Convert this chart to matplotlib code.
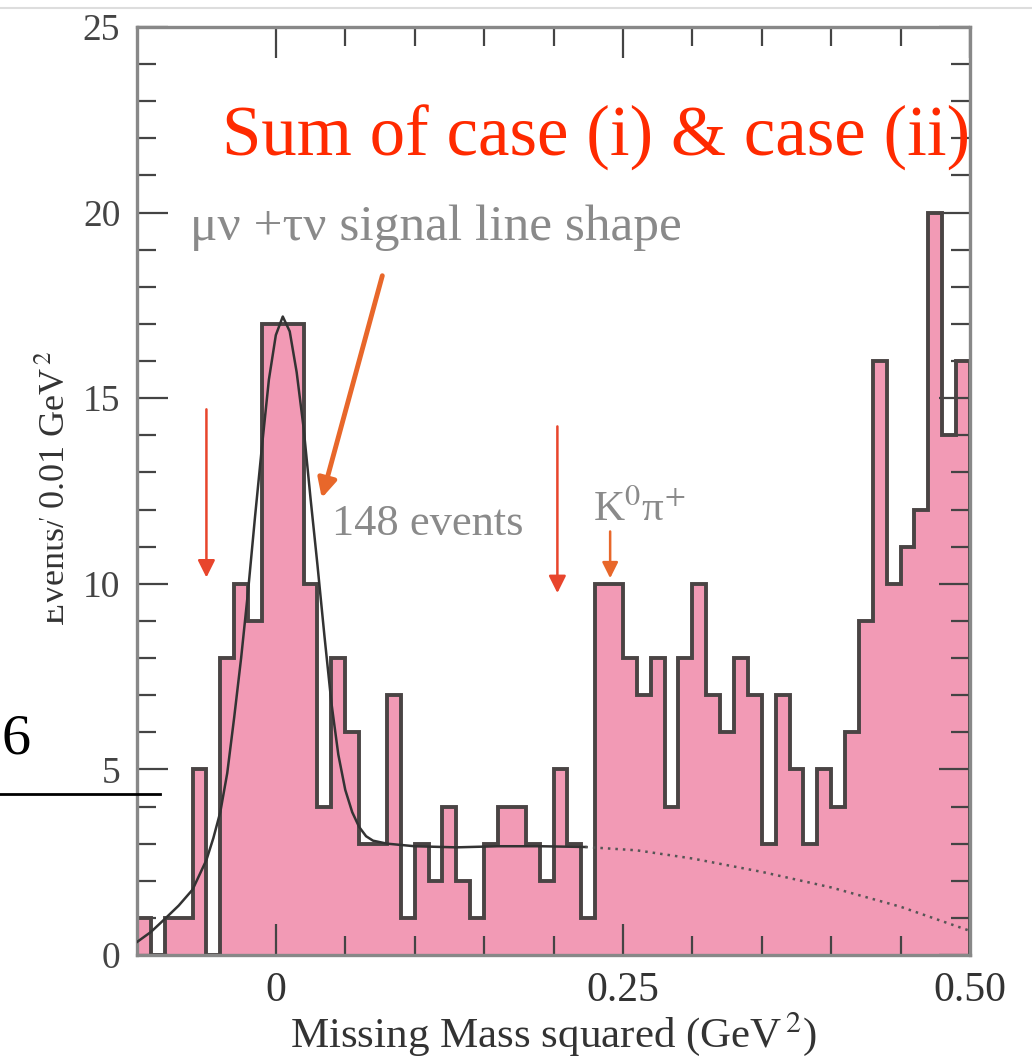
import numpy as np
import matplotlib.pyplot as plt
from matplotlib.patches import Rectangle
from matplotlib.lines import Line2D

plt.rcParams['font.family'] = ['Liberation Serif', 'DejaVu Serif']
plt.rcParams['mathtext.fontset'] = 'stix'

# histogram: 60 bins of 0.01 GeV^2 from -0.10 to 0.50
bin_lo = -0.10
bin_hi = 0.50
counts = [1, 0, 1, 1, 5, 0, 8, 10, 9, 17,
          17, 17, 10, 4, 8, 6, 3, 3, 7, 1,
          3, 2, 4, 2, 1, 3, 4, 4, 3, 2,
          5, 3, 1, 10, 10, 8, 7, 8, 4, 8,
          10, 7, 6, 8, 7, 3, 7, 5, 3, 5,
          4, 6, 9, 16, 10, 11, 12, 20, 14, 16]

# fitted signal + background curve
fit_x = [-0.100, -0.090, -0.080, -0.070, -0.060, -0.050, -0.045, -0.040,
         -0.035, -0.030, -0.025, -0.020, -0.015, -0.010, -0.005, 0.000,
         0.005, 0.010, 0.015, 0.020, 0.025, 0.030, 0.035, 0.040, 0.045,
         0.050, 0.055, 0.060, 0.065, 0.070, 0.080, 0.100, 0.130, 0.160,
         0.190, 0.223]
fit_y = [0.35, 0.62, 0.97, 1.33, 1.76, 2.56, 3.15, 3.85,
         4.9, 6.4, 8.0, 9.8, 11.8, 13.7, 15.5, 16.7,
         17.2, 16.8, 15.7, 14.2, 12.3, 10.5, 8.6, 6.8, 5.4,
         4.45, 3.85, 3.45, 3.2, 3.08, 3.0, 2.93, 2.9, 2.93,
         2.93, 2.91]
bkg_x = [0.223, 0.260, 0.300, 0.350, 0.400, 0.450, 0.500]
bkg_y = [2.91, 2.82, 2.60, 2.24, 1.82, 1.30, 0.65]

x_major = [0, 0.25, 0.50]
x_major_labels = ['0', '0.25', '0.50']
y_major = [0, 5, 10, 15, 20, 25]

pink = '#f29ab5'
edge_col = '#4a4444'
gray_txt = '#8a8a8a'
red = '#ff2a00'
arrow_red = '#e8452c'
arrow_orange = '#e8672a'

fig = plt.figure(figsize=(10.32, 10.58), dpi=100)
ax = fig.add_axes([137 / 1032, 1 - 955 / 1058, 833 / 1032, 928 / 1058])

edges = np.linspace(bin_lo, bin_hi, len(counts) + 1)
ax.stairs(counts, edges, fill=True, facecolor=pink, edgecolor='none', zorder=1)
ax.stairs(counts, edges, color=edge_col, lw=2.8, baseline=0, zorder=2)

ax.plot(fit_x, fit_y, color='#333333', lw=1.8, zorder=3)
ax.plot(bkg_x, bkg_y, color='#555555', lw=1.8, ls=(0, (1, 2)), zorder=3)

ax.set_xlim(bin_lo, bin_hi)
ax.set_ylim(0, 25)
ax.set_xticks(x_major)
ax.set_xticklabels(x_major_labels)
ax.set_xticks(np.arange(0.05, 0.5, 0.05), minor=True)
ax.set_yticks(y_major)
ax.set_yticks(range(26), minor=True)
ax.tick_params(which='both', direction='in', top=True, right=True,
               color='#444444', width=1.6)
ax.tick_params(which='major', length=22)
ax.tick_params(which='minor', length=14)
ax.tick_params(axis='x', labelsize=30, labelcolor='#333333', pad=12)
ax.tick_params(axis='y', labelsize=27, labelcolor='#444444', pad=12)
for side in ['left', 'right', 'top', 'bottom']:
    ax.spines[side].set_color('#888888')
    ax.spines[side].set_linewidth(2.4)

ax.set_xlabel('Missing Mass squared (GeV$^{\\,2}$)', fontsize=31,
              color='#333333', labelpad=0)

# annotations
ax.text(-0.039, 22.0, 'Sum of case (i) & case (ii)', color=red,
        fontsize=51, ha='left', va='center')
ax.text(-0.0615, 19.6, 'μν +τν signal line shape', color=gray_txt,
        fontsize=37, ha='left', va='center')
ax.text(0.0403, 11.6, '148 events', color=gray_txt,
        fontsize=32, ha='left', va='center')
ax.text(0.262, 12.0, 'K$^{0}$π$^{+}$', color=gray_txt,
        fontsize=31, ha='center', va='center')

ax.annotate('', xy=(0.0331, 12.31), xytext=(0.0767, 18.3),
            arrowprops=dict(arrowstyle='-|>', color=arrow_orange, lw=3.5,
                            mutation_scale=28, shrinkA=0, shrinkB=0))
ax.annotate('', xy=(-0.050, 10.17), xytext=(-0.050, 14.7),
            arrowprops=dict(arrowstyle='-|>', color=arrow_red, lw=1.8,
                            mutation_scale=26, shrinkA=0, shrinkB=0))
ax.annotate('', xy=(0.2028, 9.75), xytext=(0.2028, 14.24),
            arrowprops=dict(arrowstyle='-|>', color=arrow_red, lw=1.8,
                            mutation_scale=26, shrinkA=0, shrinkB=0))
ax.annotate('', xy=(0.2408, 10.15), xytext=(0.2408, 11.41),
            arrowprops=dict(arrowstyle='-|>', color=arrow_orange, lw=1.8,
                            mutation_scale=24, shrinkA=0, shrinkB=0))

# y label, partly hidden behind a white patch like in the slide
fig.text(56 / 1032, 1 - 488 / 1058, 'Events/ 0.01 GeV$^{\\,2}$', rotation=90,
         ha='center', va='center', fontsize=26, color='#333333')
fig.patches.append(Rectangle((0, 1 - 650 / 1058), 47 / 1032, 130 / 1058,
                             transform=fig.transFigure, facecolor='white',
                             edgecolor='none', zorder=5))

# slide leftovers: "6" and a rule on the left, faint top border
fig.text(1 / 1032, 1 - 740 / 1058, '6', fontsize=42, color='black',
         ha='left', va='center')
fig.add_artist(Line2D([0, 160 / 1032], [1 - 794 / 1058] * 2,
                      transform=fig.transFigure, color='black', lw=2))
fig.add_artist(Line2D([0, 1], [1 - 8 / 1058] * 2,
                      transform=fig.transFigure, color='#dddddd', lw=1.5))

fig.savefig('out.png', dpi=100)
